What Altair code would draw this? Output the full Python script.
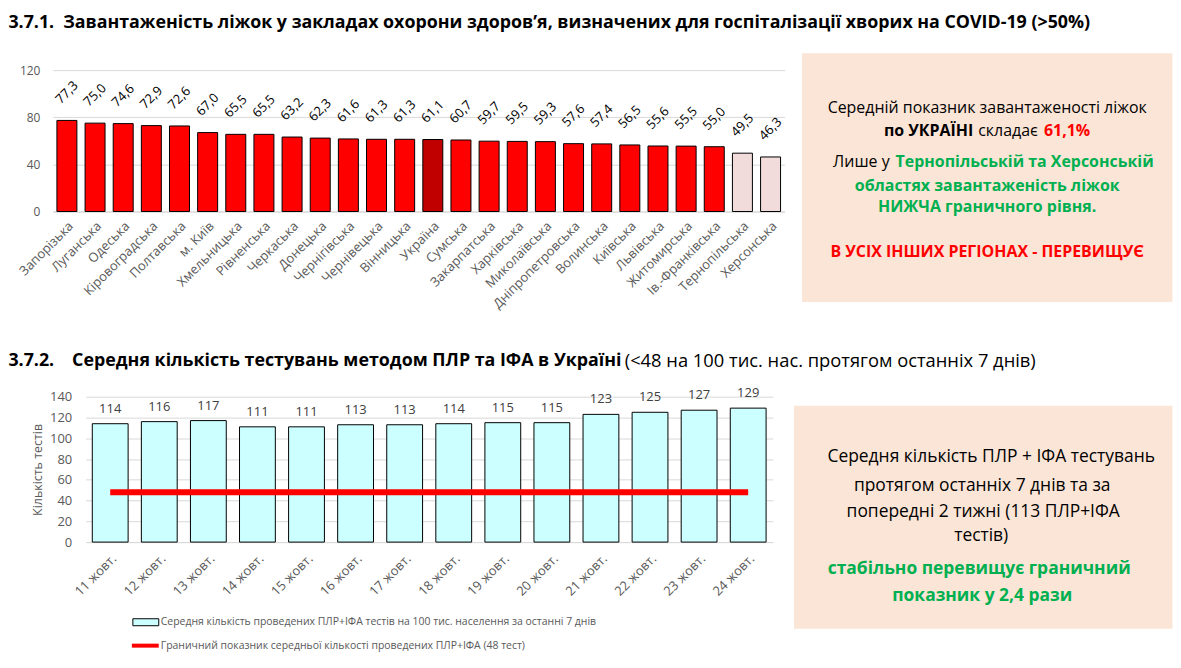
import altair as alt
import pandas as pd

FONT = "Open Sans"
GRAY = "#595959"
GREEN = "#00B050"
RED = "#FF0000"
BOX = "#FBE5D6"

# ---------------- data: bed occupancy ----------------
regions = ["Запорізька", "Луганська", "Одеська", "Кіровоградська", "Полтавська", "м. Київ",
           "Хмельницька", "Рівненська", "Черкаська", "Донецька", "Чернігівська", "Чернівецька",
           "Вінницька", "Україна", "Сумська", "Закарпатська", "Харківська", "Миколаївська",
           "Дніпропетровська", "Волинська", "Київська", "Львівська", "Житомирська",
           "Ів.-Франківська", "Тернопільська", "Херсонська"]
occupancy = [77.3, 75.0, 74.6, 72.9, 72.6, 67.0, 65.5, 65.5, 63.2, 62.3, 61.6, 61.3, 61.3,
             61.1, 60.7, 59.7, 59.5, 59.3, 57.6, 57.4, 56.5, 55.6, 55.5, 55.0, 49.5, 46.3]
status = ["above"] * 13 + ["ukraine"] + ["above"] * 10 + ["below"] * 2
occ_ticks = [0, 40, 80, 120]

# ---------------- data: tests ----------------
dates = ["11 жовт.", "12 жовт.", "13 жовт.", "14 жовт.", "15 жовт.", "16 жовт.", "17 жовт.",
         "18 жовт.", "19 жовт.", "20 жовт.", "21 жовт.", "22 жовт.", "23 жовт.", "24 жовт."]
tests = [114, 116, 117, 111, 111, 113, 113, 114, 115, 115, 123, 125, 127, 129]
threshold = [48, 48, 48, 48, 48, 48, 48, 48, 48, 48, 48, 48, 48, 48]
test_ticks = [0, 20, 40, 60, 80, 100, 120, 140]

df1 = pd.DataFrame({"region": regions, "value": occupancy, "status": status,
                    "label": [f"{v:.1f}".replace(".", ",") for v in occupancy]})
df2 = pd.DataFrame({"date": dates, "tests": tests, "thr": threshold})
one = pd.DataFrame({"k": [0]})

# page position of each plot area's origin (used to place annotations)
O1 = (52.6, 69.0)
O2 = (85.6, 397.0)


def txt(o, text, px, py, size, color="black", weight="normal", align="center", baseline="middle"):
    return alt.Chart(one).mark_text(text=text, fontSize=size, color=color, fontWeight=weight,
                                    align=align, baseline=baseline, font=FONT).encode(
        x=alt.value(px - o[0]), y=alt.value(py - o[1]))


def box(o, x1, x2, y1, y2, **kw):
    return alt.Chart(one).mark_rect(**kw).encode(
        x=alt.value(x1 - o[0]), x2=alt.value(x2 - o[0]),
        y=alt.value(y1 - o[1]), y2=alt.value(y2 - o[1]))


# ---------------- chart 1 ----------------
x1 = alt.X("region:N", sort=regions,
           scale=alt.Scale(paddingInner=0.29, paddingOuter=0.146),
           axis=alt.Axis(title=None, labelAngle=315, labelAlign="right", labelBaseline="top",
                         labelPadding=8, labelFontSize=13, labelColor=GRAY, labelFont=FONT,
                         ticks=False, domainColor="#D9D9D9", grid=False, labelOverlap=False))
y1 = alt.Y("value:Q", scale=alt.Scale(domain=[0, 120], nice=False),
           axis=alt.Axis(title=None, values=occ_ticks, gridColor="#D9D9D9", domain=False,
                         ticks=False, labelPadding=13, labelFontSize=12, labelColor=GRAY,
                         labelFont=FONT, labelOverlap=False))

bars1 = alt.Chart(df1).mark_bar(stroke="black", strokeWidth=1).encode(
    x=x1, y=y1,
    color=alt.Color("status:N", legend=None,
                    scale=alt.Scale(domain=["above", "ukraine", "below"],
                                    range=["#FF0000", "#C00000", "#F2DCDB"])))
vals1 = alt.Chart(df1).mark_text(angle=315, dx=19.8, dy=-19.8, align="center", baseline="middle",
                                 fontSize=13, color="black", font=FONT).encode(
    x=x1, y=y1, text="label:N")

ann1 = [
    box(O1, 8, 12, 8, 9, opacity=0),
    txt(O1, "3.7.1.", 8, 13, 17.9, weight="bold", align="left", baseline="top"),
    txt(O1, "Завантаженість ліжок у закладах охорони здоров’я, визначених для госпіталізації хворих на COVID-19 (>50%)",
        63, 13, 17.9, weight="bold", align="left", baseline="top"),
    box(O1, 805, 1177, 52, 302, fill=BOX),
    txt(O1, "Середній показник завантаженості ліжок", 991, 106.7, 16),
    txt(O1, "по УКРАЇНІ", 977, 130, 16, weight="bold", align="right"),
    txt(O1, "складає", 982, 130, 16, align="left"),
    txt(O1, "61,1%", 1048, 130, 16, color=RED, weight="bold", align="left"),
    txt(O1, "Лише у", 893, 161.7, 16, align="right"),
    txt(O1, "Тернопільській та Херсонській", 899, 161.7, 16, color=GREEN, weight="bold", align="left"),
    txt(O1, "областях завантаженість ліжок", 991, 185, 16, color=GREEN, weight="bold"),
    txt(O1, "НИЖЧА граничного рівня.", 991, 206.7, 16, color=GREEN, weight="bold"),
    txt(O1, "В УСІХ ІНШИХ РЕГІОНАХ - ПЕРЕВИЩУЄ", 991, 251.7, 16, color=RED, weight="bold"),
]

chart1 = alt.layer(*ann1, bars1, vals1).properties(width=735, height=142)

# ---------------- chart 2 ----------------
x2 = alt.X("date:N", sort=dates,
           scale=alt.Scale(paddingInner=0.27, paddingOuter=0.135),
           axis=alt.Axis(title=None, labelAngle=315, labelAlign="right", labelBaseline="top",
                         labelPadding=10, labelFontSize=13, labelColor=GRAY, labelFont=FONT,
                         ticks=False, domainColor="#D9D9D9", grid=False, labelOverlap=False))
axis2 = alt.Axis(title="Кількість тестів", values=test_ticks, gridColor="#D9D9D9",
                 domain=False, ticks=False, labelPadding=14, labelFontSize=13,
                 labelColor=GRAY, labelFont=FONT, titleFont=FONT, titleFontSize=12.5,
                 titleFontWeight="normal", titleColor=GRAY, titlePadding=5, labelOverlap=False)
scale2 = alt.Scale(domain=[0, 140], nice=False)
y2 = alt.Y("tests:Q", scale=scale2, axis=axis2)
y2t = alt.Y("thr:Q", scale=scale2, axis=axis2)

bars2 = alt.Chart(df2).mark_bar(fill="#CCFFFF", stroke="black", strokeWidth=1).encode(x=x2, y=y2)
vals2 = alt.Chart(df2).mark_text(dy=-15, fontSize=13, color="#404040", font=FONT,
                                 baseline="middle").encode(x=x2, y=y2, text="tests:Q")
line2 = alt.Chart(df2).mark_line(color=RED, strokeWidth=6).encode(x=x2, y=y2t)

ann2 = [
    txt(O2, "3.7.2.", 8, 352, 17.9, weight="bold", align="left", baseline="top"),
    txt(O2, "Середня кількість тестувань методом ПЛР та ІФА в Україні", 72, 352, 17.9,
        weight="bold", align="left", baseline="top"),
    txt(O2, "(<48 на 100 тис. нас. протягом останніх 7 днів)", 627, 352, 18.4,
        align="left", baseline="top"),
    box(O2, 797, 1177, 406, 630, fill=BOX),
    txt(O2, "Середня кількість ПЛР + ІФА тестувань", 995, 458, 17.5),
    txt(O2, "протягом останніх 7 днів та за", 986, 487, 17.5),
    txt(O2, "попередні 2 тижні (113 ПЛР+ІФА", 987, 513, 17.5),
    txt(O2, "тестів)", 985, 537, 17.5),
    txt(O2, "стабільно перевищує граничний", 983, 570, 17.5, color=GREEN, weight="bold"),
    txt(O2, "показник у 2,4 рази", 986, 597, 17.5, color=GREEN, weight="bold"),
    # legend
    box(O2, 133, 159, 620, 627, fill="#CCFFFF", stroke="black", strokeWidth=1),
    txt(O2, "Середня кількість проведених ПЛР+ІФА тестів на 100 тис. населення за останні 7 днів",
        161, 623.5, 10.5, color=GRAY, align="left"),
    alt.Chart(one).mark_rule(color=RED, strokeWidth=4).encode(
        x=alt.value(132 - O2[0]), x2=alt.value(159 - O2[0]), y=alt.value(647 - O2[1])),
    txt(O2, "Граничний показник середньої кількості проведених ПЛР+ІФА (48 тест)",
        161, 647, 10.5, color=GRAY, align="left"),
]

chart2 = alt.layer(*ann2, bars2, line2, vals2).properties(width=690, height=146)

spacer = alt.Chart(one).mark_rect(opacity=0).encode(
    x=alt.value(0), x2=alt.value(1), y=alt.value(0), y2=alt.value(1)).properties(
    width=O2[0] - O1[0], height=10)

row2 = alt.hconcat(spacer, chart2, spacing=0, bounds="flush")
chart = alt.vconcat(chart1, row2, spacing=O2[1] - O1[1] - 142, bounds="flush").properties(
    padding=0).configure_view(stroke=None).configure_text(font=FONT)

chart.save("out.html", embed_options={"renderer": "svg", "actions": False})
